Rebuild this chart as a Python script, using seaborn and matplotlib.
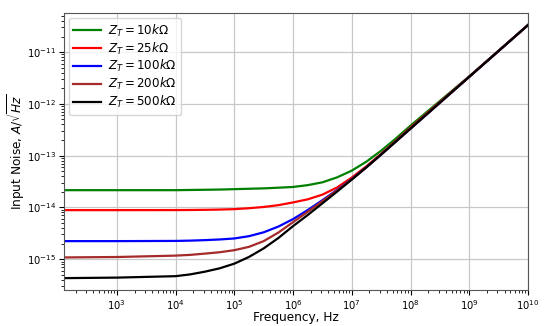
import numpy as np
import pandas as pd
import matplotlib
matplotlib.use("Agg")
import matplotlib.pyplot as plt
import seaborn as sns

# Frequency points (Hz)
freq = [1.26e2, 1e3, 1e4, 1.78e4, 3.16e4, 5.62e4, 1e5, 1.78e5, 3.16e5, 5.62e5, 1e6,
        1.78e6, 3.16e6, 5.62e6, 1e7, 1.78e7, 3.16e7, 5.62e7, 1e8, 3.16e8, 1e9, 1e10]

noise_10k = [2.15e-14, 2.15e-14, 2.15e-14, 2.17e-14, 2.19e-14, 2.21e-14, 2.25e-14, 2.29e-14,
             2.33e-14, 2.40e-14, 2.48e-14, 2.69e-14, 3.05e-14, 3.80e-14, 5.13e-14, 7.67e-14,
             1.245e-13, 2.14e-13, 3.80e-13, 1.135e-12, 3.40e-12, 3.33e-11]
noise_25k = [8.85e-15, 8.85e-15, 8.87e-15, 8.91e-15, 8.97e-15, 9.08e-15, 9.25e-15, 9.64e-15,
             1.019e-14, 1.104e-14, 1.247e-14, 1.432e-14, 1.762e-14, 2.43e-14, 3.77e-14, 6.25e-14,
             1.086e-13, 1.93e-13, 3.48e-13, 1.084e-12, 3.37e-12, 3.33e-11]
noise_100k = [2.23e-15, 2.23e-15, 2.25e-15, 2.28e-15, 2.33e-15, 2.40e-15, 2.51e-15, 2.78e-15,
              3.30e-15, 4.26e-15, 5.94e-15, 8.89e-15, 1.377e-14, 2.18e-14, 3.54e-14, 5.99e-14,
              1.05e-13, 1.87e-13, 3.33e-13, 1.052e-12, 3.33e-12, 3.33e-11]
noise_200k = [1.08e-15, 1.10e-15, 1.17e-15, 1.21e-15, 1.28e-15, 1.36e-15, 1.49e-15, 1.73e-15,
              2.23e-15, 3.26e-15, 5.19e-15, 8.22e-15, 1.32e-14, 2.14e-14, 3.52e-14, 5.97e-14,
              1.05e-13, 1.87e-13, 3.33e-13, 1.052e-12, 3.33e-12, 3.33e-11]
noise_500k = [4.30e-16, 4.40e-16, 4.69e-16, 5.08e-16, 5.73e-16, 6.65e-16, 8.18e-16, 1.104e-15,
              1.614e-15, 2.56e-15, 4.35e-15, 7.13e-15, 1.197e-14, 2.02e-14, 3.44e-14, 5.97e-14,
              1.05e-13, 1.87e-13, 3.33e-13, 1.052e-12, 3.33e-12, 3.33e-11]

labels = [r"$Z_T = 10k\Omega$", r"$Z_T = 25k\Omega$", r"$Z_T = 100k\Omega$",
          r"$Z_T = 200k\Omega$", r"$Z_T = 500k\Omega$"]
colors = ["green", "red", "blue", "brown", "black"]
series = [noise_10k, noise_25k, noise_100k, noise_200k, noise_500k]

x_ticks = [1e3, 1e4, 1e5, 1e6, 1e7, 1e8, 1e9, 1e10]
x_tick_labels = [r"$10^{3}$", r"$10^{4}$", r"$10^{5}$", r"$10^{6}$", r"$10^{7}$",
                 r"$10^{8}$", r"$10^{9}$", r"$10^{10}$"]
y_ticks = [1e-15, 1e-14, 1e-13, 1e-12, 1e-11]
y_tick_labels = [r"$10^{-15}$", r"$10^{-14}$", r"$10^{-13}$", r"$10^{-12}$", r"$10^{-11}$"]

df = pd.concat([pd.DataFrame({"Frequency": freq, "Noise": s, "Z": lab})
                for s, lab in zip(series, labels)], ignore_index=True)

fig = plt.figure(figsize=(5.5, 3.26), dpi=100)
ax = fig.add_axes([0.116, 0.110, 0.844, 0.850])

sns.lineplot(data=df, x="Frequency", y="Noise", hue="Z", hue_order=labels,
             palette=dict(zip(labels, colors)), linewidth=1.6, ax=ax,
             estimator=None, sort=False)

ax.set_xscale("log")
ax.set_yscale("log")
ax.set_xlim(125, 1e10)
ax.set_ylim(2.52e-16, 5.68e-11)
ax.set_xticks(x_ticks)
ax.set_xticklabels(x_tick_labels)
ax.set_yticks(y_ticks)
ax.set_yticklabels(y_tick_labels)
ax.yaxis.set_minor_formatter(matplotlib.ticker.NullFormatter())
ax.xaxis.set_minor_formatter(matplotlib.ticker.NullFormatter())
ax.grid(True, which="major", color="#c8c8c8", linewidth=0.9)
ax.set_axisbelow(True)
ax.set_xlabel("Frequency, Hz", fontsize=8.7)
ax.set_ylabel(r"Input Noise, $A/\sqrt{Hz}$", fontsize=8.7)
ax.xaxis.set_label_coords(0.5, -0.075)
ax.yaxis.set_label_coords(-0.080, 0.5)
ax.tick_params(labelsize=7.2, pad=2)
ax.tick_params(which="major", length=3.5)
ax.tick_params(which="minor", length=2)
for sp in ax.spines.values():
    sp.set_color("#555555")

leg = ax.legend(loc="upper left", fontsize=8.6, title=None, handlelength=2.3,
                handletextpad=0.6, labelspacing=0.15, borderaxespad=0.4)
for l in leg.get_lines():
    l.set_linewidth(1.6)

fig.savefig("out.png", dpi=100)
